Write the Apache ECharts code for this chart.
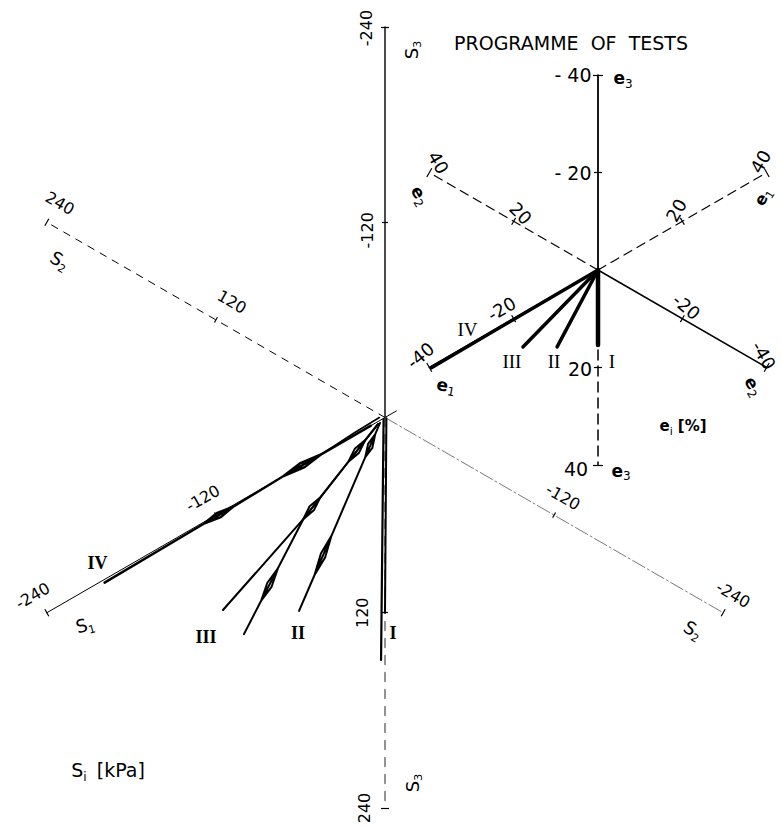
<!DOCTYPE html>
<html>
<head>
<meta charset="utf-8">
<script src="https://cdn.jsdelivr.net/npm/echarts@6/dist/echarts.min.js"></script>
<style>
  html, body { margin: 0; padding: 0; background: #fff; }
  #chart { width: 782px; height: 826px; }
</style>
</head>
<body>
<div id="chart"></div>
<script>
// ---- Stress paths: principal stresses [s1, s2, s3] in kPa ----
const stressIV_a = [
  [-10, 0, 0], [-45, 0, 0], [-57, 0, 2], [-72, 0, 0], [-60, 0, -2], [-45, 0, 0], [-72, 0, 0],
  [-108, 0, 1], [-116.5, 0, 3], [-128, 0, 1], [-119.5, 0, -1], [-108, 0, 1], [-128, 0, 1], [-199, 0, 2]
];
const stressIV_b = [[-4, 0, -2], [-22, 0, -1.5], [-45, 0, 0]];
const stressIII_a = [
  [-5, 0, 1.5], [-14, 0, 6.9], [-18.5, 0, 12.5], [-26, 0, 14.2], [-21.5, 0, 8.5], [-14, 0, 6.9], [-26, 0, 14.2],
  [-46, 0, 26.2], [-50.5, 0, 31.8], [-58, 0, 33.5], [-53.5, 0, 27.8], [-46, 0, 26.2], [-58, 0, 33.5],
  [-115, 0, 60.8]
];
const stressIII_b = [
  [-5, 0, 1.5], [-14, 0, 6.9], [-26, 0, 14.2], [-46, 0, 26.2], [-58, 0, 33.5],
  [-76, 0, 54.7], [-80.5, 0, 63.8], [-88, 0, 68.8], [-83.5, 0, 59.8], [-76, 0, 54.7], [-88, 0, 68.8],
  [-100.1, 0, 83.1]
];
const stressII = [
  [-3.5, 0, 1.6], [-7, 0, 6.9], [-9, 0, 14.2], [-14, 0, 17.4], [-12, 0, 10.2], [-7, 0, 6.9], [-14, 0, 17.4],
  [-38, 0, 53.7], [-42.5, 0, 64.8], [-50, 0, 71.8], [-45.5, 0, 60.8], [-38, 0, 53.7], [-50, 0, 71.8],
  [-61, 0, 88.4]
];
const stressI_a = [[1, 0, 1], [0, 0, 120]];
const stressI_b = [[-1, 0, 0.5], [-2.8, 0, 147.6]];

// ---- Strain paths: principal strains [e1, e2, e3] in % ----
const strainIV = [[0, 0, 0], [-39.5, 0, 0.3]];
const strainIII = [[0, 0, 0], [-17.8, 0, 6.9]];
const strainII = [[0, 0, 0], [-9.7, 0, 10.95]];
const strainI = [[0, 0, 0], [0, 0, 15.4]];

// ---- Axis tick values ----
const stressTicksS1 = [-240, -120];
const stressTicksS2 = [-240, -120, 120, 240];
const stressTicksS3 = [-240, -120, 120, 240];
const strainTicks = [-40, -20, 20, 40];

// ---- Layout of the two octahedral-plane diagrams ----
const W = 782, H = 826;
const S_ORIGIN = [385, 417.5], S_SCALE = 1.627;   // px per kPa
const E_ORIGIN = [598, 270], E_SCALE = 4.87;      // px per %
const C30 = Math.sqrt(3) / 2;

// Project a principal triple onto the deviatoric plane:
// axis 1 points up-right, axis 2 up-left, axis 3 straight down.
function proj(p) {
  return [C30 * (p[0] - p[1]), 0.5 * (p[0] + p[1]) - p[2]];
}
function scaleVec(d, v) { return [d[0] * v, d[1] * v, d[2] * v]; }

const DIRS = [[1, 0, 0], [0, 1, 0], [0, 0, 1]];

function lineSeries(grid, pts, style) {
  return {
    type: 'line', xAxisIndex: grid, yAxisIndex: grid,
    data: pts.map(proj), symbol: 'none', silent: true,
    emphasis: { disabled: true },
    lineStyle: Object.assign({ color: '#000', join: 'round', cap: 'round' }, style)
  };
}

// tick marks across each principal axis; tickSets[i] belongs to DIRS[i]
function tickSeries(grid, tickSets, maxVal, scale, endHalf, midHalf) {
  const segs = [];
  DIRS.forEach((d, i) => {
    const u = proj(d);
    const n = [-u[1], u[0]];
    tickSets[i].forEach(v => {
      const c = proj(scaleVec(d, v));
      const h = (Math.abs(v) === maxVal ? endHalf : midHalf) / scale;
      segs.push({ coords: [[c[0] - n[0] * h, c[1] - n[1] * h], [c[0] + n[0] * h, c[1] + n[1] * h]] });
    });
  });
  return {
    type: 'lines', coordinateSystem: 'cartesian2d', xAxisIndex: grid, yAxisIndex: grid,
    data: segs, silent: true, polyline: false,
    lineStyle: { color: '#000', width: 1.2, curveness: 0, opacity: 1 }
  };
}

function axisRange(origin, scale) {
  return {
    x: [-origin[0] / scale, (W - origin[0]) / scale],
    y: [-(H - origin[1]) / scale, origin[1] / scale]
  };
}
const sR = axisRange(S_ORIGIN, S_SCALE);
const eR = axisRange(E_ORIGIN, E_SCALE);

const series = [
  // stress axes
  lineSeries(0, [[0, 0, 0], [0, 0, -240]], { width: 1.4 }),
  lineSeries(0, [[0, 0, 0], [0, 0, 240]], { width: 1.4, color: '#666', type: [9, 8] }),
  lineSeries(0, [[0, 0, 0], [-240, 0, 0]], { width: 1 }),
  lineSeries(0, [[0, 0, 0], [8, 0, 0]], { width: 1 }),
  lineSeries(0, [[0, 0, 0], [0, 240, 0]], { width: 1, type: [7, 7] }),
  lineSeries(0, [[0, 0, 0], [0, -240, 0]], { width: 0.8, color: '#555', type: [14, 3, 2, 3] }),
  tickSeries(0, [stressTicksS1, stressTicksS2, stressTicksS3], 240, S_SCALE, 4, 3),
  // stress paths
  lineSeries(0, stressIV_a, { width: 2.4 }),
  lineSeries(0, stressIV_b, { width: 1.6 }),
  lineSeries(0, stressIII_a, { width: 2 }),
  lineSeries(0, stressIII_b, { width: 2 }),
  lineSeries(0, stressII, { width: 2 }),
  lineSeries(0, stressI_a, { width: 2 }),
  lineSeries(0, stressI_b, { width: 2.2 }),
  // strain axes
  lineSeries(1, [[0, 0, 0], [0, 0, -40]], { width: 1.8 }),
  lineSeries(1, [[0, 0, 0], [0, 0, 40]], { width: 1.5, type: [10, 6] }),
  lineSeries(1, [[0, 0, 0], [40, 0, 0]], { width: 1.2, type: [9, 6] }),
  lineSeries(1, [[0, 0, 0], [-40, 0, 0]], { width: 1.5 }),
  lineSeries(1, [[0, 0, 0], [0, 40, 0]], { width: 1.2, type: [9, 6] }),
  lineSeries(1, [[0, 0, 0], [0, -40, 0]], { width: 1.5 }),
  tickSeries(1, [strainTicks, strainTicks, strainTicks], 40, E_SCALE, 5, 4),
  // strain paths
  lineSeries(1, strainIV, { width: 3.5 }),
  lineSeries(1, strainIII, { width: 3.5 }),
  lineSeries(1, strainII, { width: 3.5 }),
  lineSeries(1, strainI, { width: 4.5 })
];

const chart = echarts.init(document.getElementById('chart'), null, { renderer: 'svg', width: W, height: H });
chart.setOption({
  animation: false,
  backgroundColor: '#fff',
  grid: [
    { left: 0, top: 0, width: W, height: H },
    { left: 0, top: 0, width: W, height: H }
  ],
  xAxis: [
    { gridIndex: 0, type: 'value', min: sR.x[0], max: sR.x[1], show: false },
    { gridIndex: 1, type: 'value', min: eR.x[0], max: eR.x[1], show: false }
  ],
  yAxis: [
    { gridIndex: 0, type: 'value', min: sR.y[0], max: sR.y[1], show: false },
    { gridIndex: 1, type: 'value', min: eR.y[0], max: eR.y[1], show: false }
  ],
  series: series
});

// ---- Text ----
const LABEL_FONT = 'DejaVu Sans';
function toPx(grid, p) { return chart.convertToPixel({ gridIndex: grid }, proj(p)); }

function textEl(x, y, text, o) {
  o = o || {};
  return {
    type: 'text', x: x, y: y, silent: true,
    rotation: (o.rot || 0) * Math.PI / 180,
    style: {
      text: text, fill: '#000',
      fontSize: o.size || 16, fontFamily: o.family || LABEL_FONT, fontWeight: o.weight || 'normal',
      align: 'center', verticalAlign: 'middle', textAlign: 'center', textVerticalAlign: 'middle',
      rich: o.rich
    }
  };
}
function subRich(size, subSize, weight) {
  return {
    n: { fontSize: size, lineHeight: size + 6, fontFamily: LABEL_FONT, fontWeight: weight || 'normal' },
    s: { fontSize: subSize, lineHeight: subSize, verticalAlign: 'bottom', fontFamily: LABEL_FONT }
  };
}

// [grid, axis point, dx, dy, text, options]
const labelSpecs = [
  // stress diagram
  [0, [0, 0, -240], -19, 1, '-240', { rot: 90 }],
  [0, [0, 0, -240], 26, 23, '{n|S}{s|3}', { rot: 90, rich: subRich(18, 11) }],
  [0, [0, 0, -120], -18, 8, '-120', { rot: 90 }],
  [0, [0, 0, 120], -23, 0, '120', { rot: 90 }],
  [0, [0, 0, 240], -21, 0, '240', { rot: 90 }],
  [0, [0, 0, 240], 27, -25, '{n|S}{s|3}', { rot: 90, rich: subRich(18, 11) }],
  [0, [0, 240, 0], 13, -19, '240', { rot: -30 }],
  [0, [0, 240, 0], 13, 38, '{n|S}{s|2}', { rot: -30, rich: subRich(18, 11) }],
  [0, [0, 120, 0], 16, -18, '120', { rot: -30 }],
  [0, [-120, 0, 0], -13, -17, '-120', { rot: 30 }],
  [0, [-240, 0, 0], -14, -17, '-240', { rot: 30 }],
  [0, [-240, 0, 0], 38, 12, '{n|S}{s|1}', { rot: 15, rich: subRich(18, 11) }],
  [0, [0, -120, 0], 9, -18, '-120', { rot: -30 }],
  [0, [0, -240, 0], 10, -18, '-240', { rot: -30 }],
  [0, [0, -240, 0], -30, 17, '{n|S}{s|2}', { rot: -30, rich: subRich(18, 11) }],
  [0, stressIV_a[stressIV_a.length - 1], -7, -20, 'IV', { family: 'Liberation Serif', weight: 'bold', size: 18 }],
  [0, stressIII_b[stressIII_b.length - 1], -38, 3, 'III', { family: 'Liberation Serif', weight: 'bold', size: 18 }],
  [0, stressII[stressII.length - 1], -1, 22, 'II', { family: 'Liberation Serif', weight: 'bold', size: 18 }],
  [0, stressI_a[stressI_a.length - 1], 8, 20, 'I', { family: 'Liberation Serif', weight: 'bold', size: 18 }],
  // strain diagram
  [1, [0, 0, -40], -25, 0, '- 40', { size: 19 }],
  [1, [0, 0, -40], 25, 3, '{n|e}{s|3}', { rich: subRich(17, 12, 'bold') }],
  [1, [0, 0, -20], -25, 0, '- 20', { size: 19 }],
  [1, [0, 0, 20], -18, 2, '20', { size: 19 }],
  [1, [0, 0, 40], -22, 4, '40', { size: 19 }],
  [1, [0, 0, 40], 23, 6, '{n|e}{s|3}', { rich: subRich(17, 12, 'bold') }],
  [1, [0, 40, 0], 9, -10, '40', { size: 18, rot: -60 }],
  [1, [0, 40, 0], -9, 23, '{n|e}{s|2}', { rot: -60, rich: subRich(17, 12, 'bold') }],
  [1, [0, 20, 0], 7, -8, '20', { size: 18, rot: -45 }],
  [1, [40, 0, 0], -6, -11, '40', { size: 18, rot: 60 }],
  [1, [40, 0, 0], -4, 24, '{n|e}{s|1}', { rot: 60, rich: subRich(16, 11, 'bold') }],
  [1, [20, 0, 0], -6, -11, '20', { size: 18, rot: 60 }],
  [1, [-20, 0, 0], -12, -10, '-20', { size: 18, rot: 30 }],
  [1, [-40, 0, 0], -9, -12, '-40', { size: 18, rot: 40 }],
  [1, [-40, 0, 0], 17, 18, '{n|e}{s|1}', { rot: -10, rich: subRich(17, 12, 'bold') }],
  [1, [0, -20, 0], 4, -12, '-20', { size: 18, rot: -40 }],
  [1, [0, -40, 0], -3, -12, '-40', { size: 18, rot: -60 }],
  [1, [0, -40, 0], -13, 19, '{n|e}{s|2}', { rot: -60, rich: subRich(17, 12, 'bold') }],
  [1, strainIV[1], 36, -38, 'IV', { family: 'Liberation Serif', size: 19 }],
  [1, strainIII[1], -11, 15, 'III', { family: 'Liberation Serif', size: 19 }],
  [1, strainII[1], -3, 15, 'II', { family: 'Liberation Serif', size: 19 }],
  [1, strainI[1], 14, 17, 'I', { family: 'Liberation Serif', size: 19 }]
];

const graphics = labelSpecs.map(s => {
  const p = toPx(s[0], s[1]);
  return textEl(p[0] + s[2], p[1] + s[3], s[4], s[5]);
});
graphics.push(textEl(571, 43, 'PROGRAMME  OF  TESTS', { size: 19 }));
graphics.push(textEl(108, 770, '{n|S}{s|i}  {n|[kPa]}', { rich: subRich(19, 12) }));
graphics.push(textEl(683, 426, '{n|e}{s|i} {n|[%]}', { rich: subRich(15, 11, 'bold') }));

chart.setOption({ graphic: { elements: graphics } });
</script>
</body>
</html>
